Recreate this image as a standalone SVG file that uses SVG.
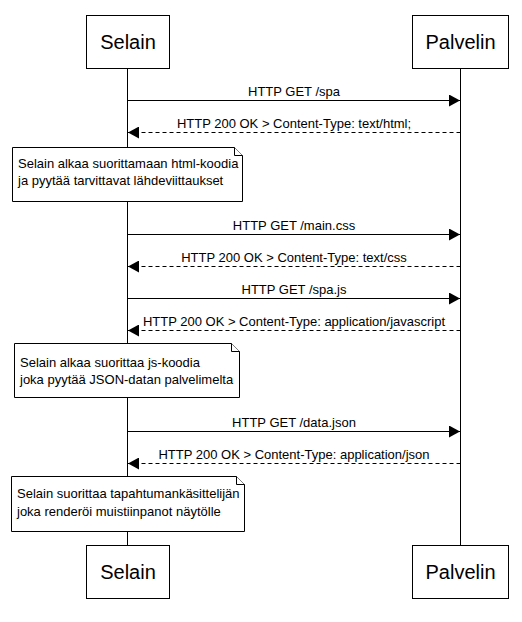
<svg xmlns="http://www.w3.org/2000/svg" width="522" height="622" viewBox="0 0 522 622">
<style>
.actor{fill:#fff;stroke:#000;stroke-width:1}
.actor-t{font-family:"Liberation Sans",Arial,sans-serif;font-size:20px;text-anchor:middle;fill:#000}
.life{stroke:#000;stroke-width:1;fill:none}
.msg{stroke:#000;stroke-width:1;fill:none}
.dash{stroke-dasharray:4,3}
.msg-t{font-family:"Liberation Sans",Arial,sans-serif;font-size:13px;text-anchor:middle;fill:#000}
.note{fill:#fff;stroke:#000;stroke-width:1}
.note-t{font-family:"Liberation Sans",Arial,sans-serif;font-size:13px;fill:#000}
</style>
<defs>
<marker id="ah" markerWidth="11" markerHeight="12" refX="11" refY="6" orient="auto" markerUnits="userSpaceOnUse">
<path d="M0,0 L11,6 L0,12 Z" fill="#000"/>
</marker>
</defs>
<g id="lifelines">
<line class="life" x1="127.5" y1="68" x2="127.5" y2="545"/>
<line class="life" x1="460.5" y1="68" x2="460.5" y2="545"/>
</g>
<g id="actor-selain-top"><rect class="actor" x="86.5" y="15.5" width="83" height="53"/><text class="actor-t" x="128" y="49">Selain</text></g>
<g id="actor-palvelin-top"><rect class="actor" x="412.5" y="15.5" width="96" height="53"/><text class="actor-t" x="460.5" y="49">Palvelin</text></g>
<g id="actor-selain-bottom"><rect class="actor" x="86.5" y="545.5" width="83" height="53"/><text class="actor-t" x="128" y="579">Selain</text></g>
<g id="actor-palvelin-bottom"><rect class="actor" x="412.5" y="545.5" width="96" height="53"/><text class="actor-t" x="460.5" y="579">Palvelin</text></g>
<g id="connectors">
<line class="msg" x1="127.5" y1="100.5" x2="460" y2="100.5" marker-end="url(#ah)"/>
<text class="msg-t" x="294" y="96">HTTP GET /spa</text>
<line class="msg dash" x1="460.5" y1="132.5" x2="128" y2="132.5" marker-end="url(#ah)"/>
<text class="msg-t" x="294" y="128">HTTP 200 OK &gt; Content-Type: text/html;</text>
<line class="msg" x1="127.5" y1="234.5" x2="460" y2="234.5" marker-end="url(#ah)"/>
<text class="msg-t" x="294" y="230">HTTP GET /main.css</text>
<line class="msg dash" x1="460.5" y1="266.5" x2="128" y2="266.5" marker-end="url(#ah)"/>
<text class="msg-t" x="294" y="262">HTTP 200 OK &gt; Content-Type: text/css</text>
<line class="msg" x1="127.5" y1="298.5" x2="460" y2="298.5" marker-end="url(#ah)"/>
<text class="msg-t" x="294" y="294">HTTP GET /spa.js</text>
<line class="msg dash" x1="460.5" y1="330.5" x2="128" y2="330.5" marker-end="url(#ah)"/>
<text class="msg-t" x="294" y="326">HTTP 200 OK &gt; Content-Type: application/javascript</text>
<line class="msg" x1="127.5" y1="431.5" x2="460" y2="431.5" marker-end="url(#ah)"/>
<text class="msg-t" x="294" y="427">HTTP GET /data.json</text>
<line class="msg dash" x1="460.5" y1="463.5" x2="128" y2="463.5" marker-end="url(#ah)"/>
<text class="msg-t" x="294" y="459">HTTP 200 OK &gt; Content-Type: application/json</text>
</g>
<g id="note1">
<path class="note" d="M12.5,147.5 H234.5 L242.5,155.5 V201.5 H12.5 Z"/>
<path class="note" d="M234.5,147.5 V155.5 H242.5"/>
<text class="note-t" x="18" y="168">Selain alkaa suorittamaan html-koodia</text>
<text class="note-t" x="18" y="185">ja pyytää tarvittavat lähdeviittaukset</text>
</g>
<g id="note2">
<path class="note" d="M14.5,343.5 H231.5 L239.5,351.5 V397.5 H14.5 Z"/>
<path class="note" d="M231.5,343.5 V351.5 H239.5"/>
<text class="note-t" x="20" y="367">Selain alkaa suorittaa js-koodia</text>
<text class="note-t" x="20" y="384">joka pyytää JSON-datan palvelimelta</text>
</g>
<g id="note3">
<path class="note" d="M11.5,476.5 H236.5 L244.5,484.5 V531.5 H11.5 Z"/>
<path class="note" d="M236.5,476.5 V484.5 H244.5"/>
<text class="note-t" x="17" y="498">Selain suorittaa tapahtumankäsittelijän</text>
<text class="note-t" x="17" y="516">joka renderöi muistiinpanot näytölle</text>
</g>
</svg>
